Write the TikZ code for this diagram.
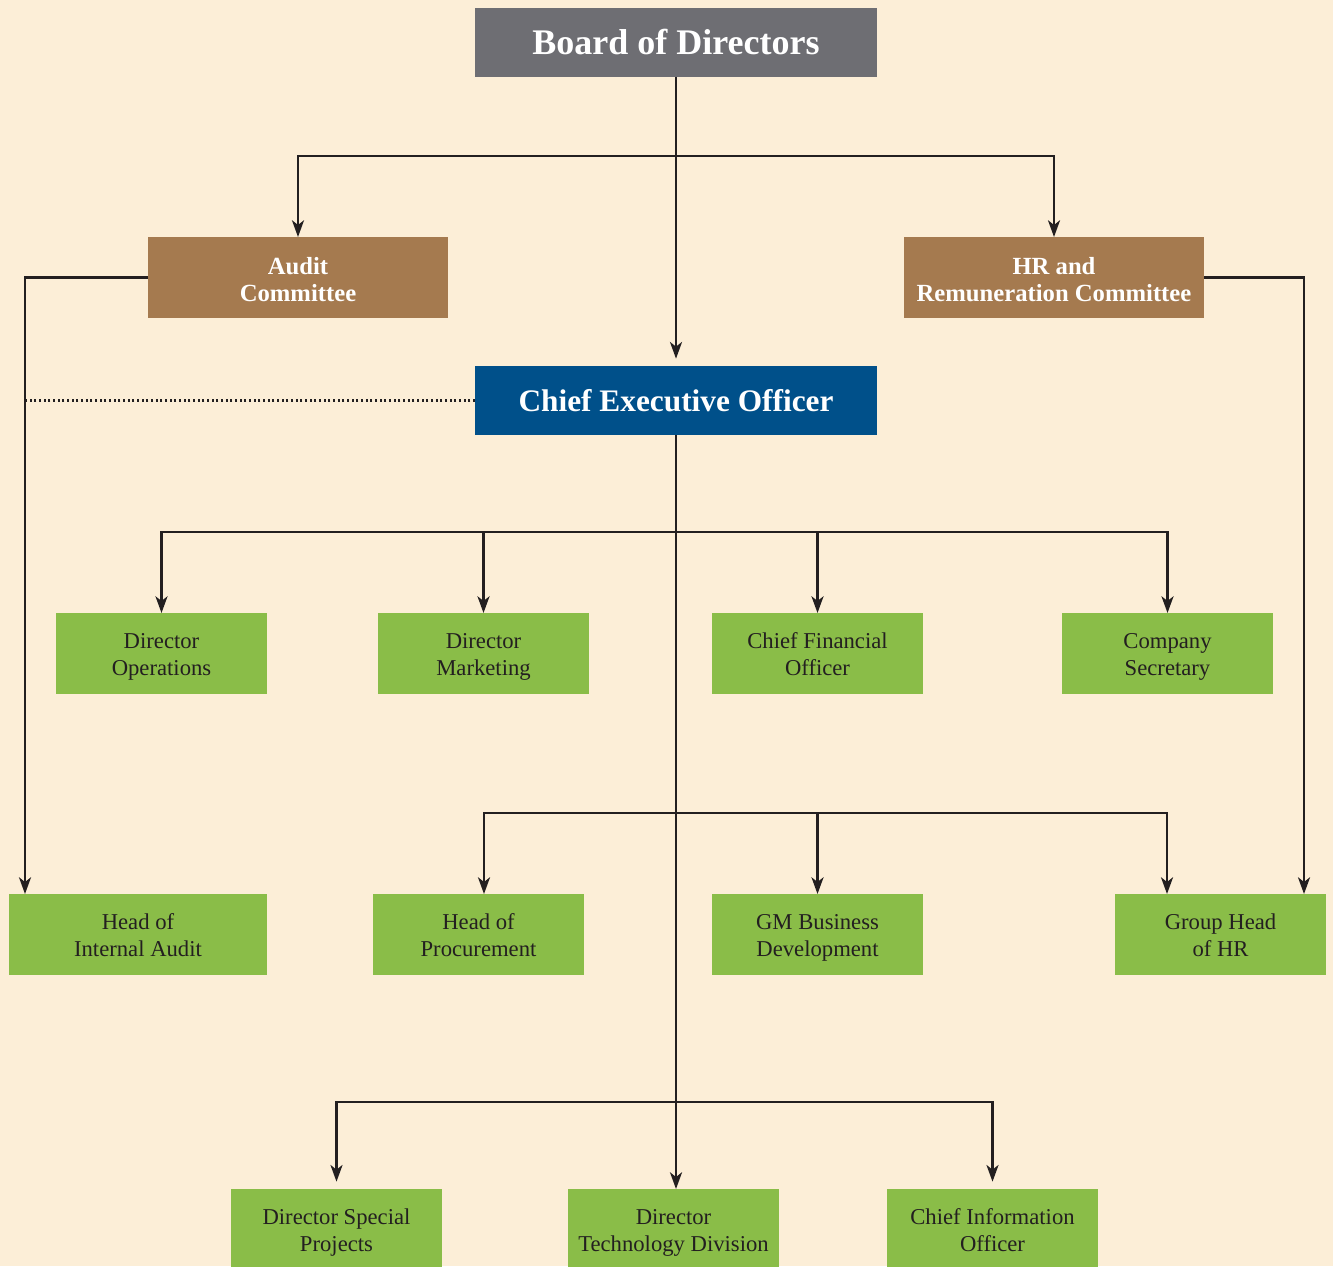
\documentclass[tikz,border=0pt]{standalone}
\usepackage{fontspec}
\setmainfont{Liberation Serif}
\usetikzlibrary{arrows.meta,calc}
\definecolor{bg}{HTML}{FCEED7}
\definecolor{boardc}{HTML}{6E6E73}
\definecolor{commc}{HTML}{A57A4F}
\definecolor{ceoc}{HTML}{00508A}
\definecolor{greenc}{HTML}{8ABD48}
\definecolor{ink}{HTML}{231F20}
\newcommand\ulines[2]{\rule{0pt}{16.3pt}#1\\#2\rule[-4pt]{0pt}{4pt}}
\newcommand\clines[2]{\rule{0pt}{15.6pt}#1\\#2}
\tikzset{
  every node/.style={inner sep=0pt, outer sep=0pt},
  top/.style={fill=boardc, text=white, minimum width={402*0.75pt}, minimum height={69*0.75pt}, font=\fontsize{27}{30}\selectfont\bfseries},
  ceobox/.style={fill=ceoc, text=white, minimum width={402*0.75pt}, minimum height={69*0.75pt}, font=\fontsize{23.5}{26}\selectfont\bfseries},
  comm/.style={fill=commc, text=white, minimum width={300*0.75pt}, minimum height={81*0.75pt}, align=center, font=\fontsize{18.5}{20.25}\selectfont\bfseries},
  unit/.style={fill=greenc, text=ink, minimum width={211*0.75pt}, minimum height={81*0.75pt}, align=center, font=\fontsize{17}{20.25}\selectfont},
  link/.style={draw=ink, line width=1.9pt},
  arr/.style={link, -{Stealth[length=12.5pt, width=9pt, inset=3.5pt]}},
  gap/.style={shorten >=5.5pt},
  dots/.style={draw=ink, line width=1.8pt, dash pattern=on 1.5pt off 2pt}
}
\begin{document}
\begin{tikzpicture}[x=0.75pt, y=-0.75pt]
\clip (0,0) rectangle (1333,1266);
\fill[bg] (0,0) rectangle (1333,1266);

% nodes
\node[top] (board) at (676,42.5) {Board of Directors};
\node[comm] (audit) at (298,277.5) {\clines{Audit}{Committee}};
\node[comm] (hr) at (1054,277.5) {\clines{HR and}{Remuneration Committee}};
\node[ceobox] (ceo) at (676,400.5) {Chief Executive Officer};

\node[unit] (dops) at (161.5,653.5) {\ulines{Director}{Operations}};
\node[unit] (dmk) at (483.5,653.5) {\ulines{Director}{Marketing}};
\node[unit] (cfo) at (817.5,653.5) {\ulines{Chief Financial}{Officer}};
\node[unit] (cs) at (1167.5,653.5) {\ulines{Company}{Secretary}};

\node[unit, minimum width={258*0.75pt}] (hia) at (138,934.5) {\ulines{Head of}{Internal Audit}};
\node[unit] (hop) at (478.5,934.5) {\ulines{Head of}{Procurement}};
\node[unit] (gm) at (817.5,934.5) {\ulines{GM Business}{Development}};
\node[unit] (ghhr) at (1220.5,934.5) {\ulines{Group Head}{of HR}};

\node[unit] (dsp) at (336.5,1229.5) {\ulines{Director Special}{Projects}};
\node[unit] (dtd) at (673.5,1229.5) {\ulines{Director}{Technology Division}};
\node[unit] (cio) at (992.5,1229.5) {\ulines{Chief Information}{Officer}};

% junctions
\coordinate (j0) at (676,156);
\coordinate (j1) at (676,532);
\coordinate (j2) at (676,813);
\coordinate (j3) at (676,1102);
\coordinate (ial) at (25,277.5);
\coordinate (hrl) at (1304,277.5);

% board level
\draw[arr, gap] (board.south) -- (ceo.north);
\draw[arr] (j0) -| (audit.north);
\draw[arr] (j0) -| (hr.north);

% committees
\draw[arr] (audit.west) -- (ial) -- (ial |- hia.north);
\draw[arr] (hr.east) -- (hrl) -- (hrl |- ghhr.north);
\draw[dots] (ceo.west) -- (ceo.west -| ial);

% CEO trunk
\draw[arr] (ceo.south) -- (ceo.south |- dtd.north);

% level 1
\draw[arr] (j1) -| (dops.north);
\draw[arr] (j1) -| (dmk.north);
\draw[arr] (j1) -| (cfo.north);
\draw[arr] (j1) -| (cs.north);

% level 2
\draw[arr] (j2) -| ($(hop.north)+(5.5,0)$);
\draw[arr] (j2) -| (gm.north);
\draw[arr] (j2) -| ($(ghhr.north west)+(52,0)$);

% level 3
\draw[arr, gap] (j3) -| (dsp.north);
\draw[arr, gap] (j3) -| (cio.north);
\end{tikzpicture}
\end{document}
